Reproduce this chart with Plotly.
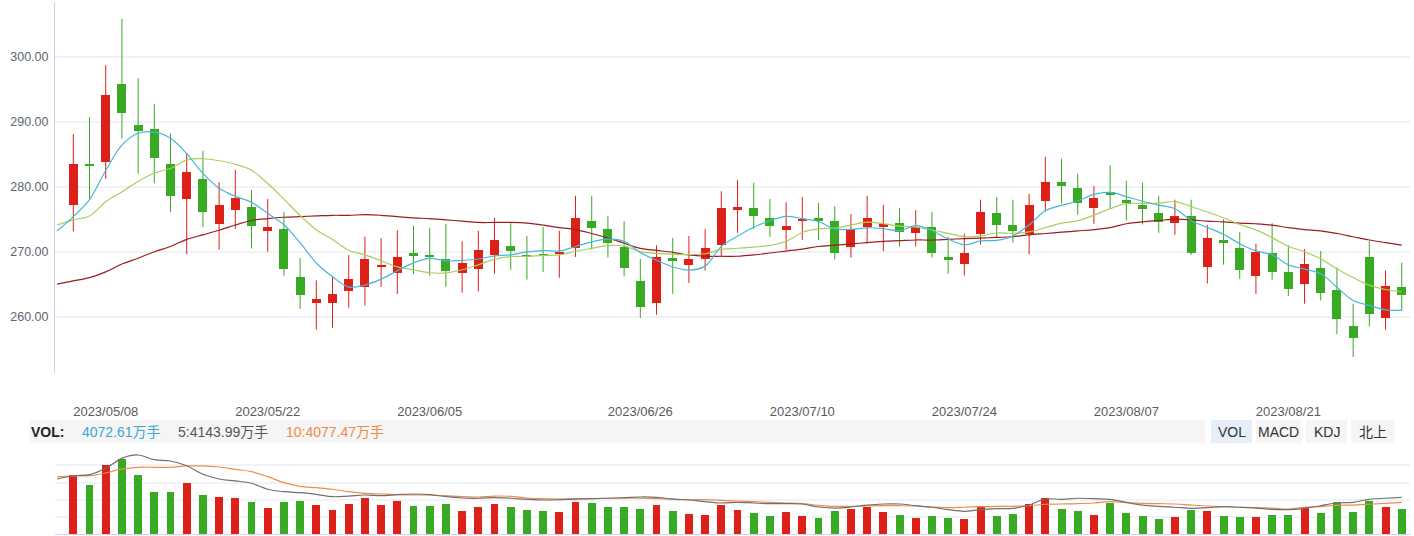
import plotly.graph_objects as go
import pandas as pd

# ---------------- data ----------------
prev_day = "2023/04/28"   # session before the first visible candle (only moving averages visible)
dates = [
    "2023/05/04", "2023/05/05", "2023/05/08", "2023/05/09", "2023/05/10", "2023/05/11", "2023/05/12",
    "2023/05/15", "2023/05/16", "2023/05/17", "2023/05/18", "2023/05/19", "2023/05/22", "2023/05/23",
    "2023/05/24", "2023/05/25", "2023/05/26", "2023/05/29", "2023/05/30", "2023/05/31",
    "2023/06/01", "2023/06/02", "2023/06/05", "2023/06/06", "2023/06/07", "2023/06/08", "2023/06/09",
    "2023/06/12", "2023/06/13", "2023/06/14", "2023/06/15", "2023/06/16", "2023/06/19", "2023/06/20",
    "2023/06/21", "2023/06/26", "2023/06/27", "2023/06/28", "2023/06/29", "2023/06/30",
    "2023/07/03", "2023/07/04", "2023/07/05", "2023/07/06", "2023/07/07", "2023/07/10", "2023/07/11",
    "2023/07/12", "2023/07/13", "2023/07/14", "2023/07/17", "2023/07/18", "2023/07/19", "2023/07/20",
    "2023/07/21", "2023/07/24", "2023/07/25", "2023/07/26", "2023/07/27", "2023/07/28", "2023/07/31",
    "2023/08/01", "2023/08/02", "2023/08/03", "2023/08/04", "2023/08/07", "2023/08/08", "2023/08/09",
    "2023/08/10", "2023/08/11", "2023/08/14", "2023/08/15", "2023/08/16", "2023/08/17", "2023/08/18",
    "2023/08/21", "2023/08/22", "2023/08/23", "2023/08/24", "2023/08/25", "2023/08/28", "2023/08/29",
    "2023/08/30",
]
open_ = [277.2, 283.6, 283.8, 295.8, 289.6, 288.9, 283.6, 278.2, 281.3, 274.3, 276.5, 276.9, 273.2, 273.6,
         266.1, 262.2, 262.2, 264.0, 264.6, 267.8, 266.8, 269.8, 269.6, 268.9, 266.8, 267.4, 269.6, 271.0,
         269.6, 269.6, 269.7, 270.6, 274.7, 273.5, 270.8, 265.6, 262.2, 269.1, 268.0, 268.9, 271.1, 276.5,
         276.7, 275.3, 273.4, 274.8, 275.2, 274.7, 270.8, 273.9, 273.9, 274.4, 272.9, 273.8, 269.3, 268.2,
         272.7, 276.0, 274.1, 272.7, 277.9, 280.7, 279.8, 276.8, 279.2, 278.0, 277.2, 276.0, 274.5, 275.5,
         267.7, 271.9, 270.6, 266.3, 269.8, 267.0, 265.1, 267.5, 264.1, 258.6, 269.2, 259.8, 264.6]
high = [288.1, 290.7, 298.7, 305.8, 296.7, 292.7, 288.2, 285.2, 285.5, 280.7, 282.6, 279.5, 278.1, 276.1,
        269.0, 265.6, 266.2, 269.5, 272.3, 272.1, 273.3, 274.0, 273.6, 274.3, 271.6, 273.2, 275.2, 274.5,
        272.4, 273.8, 273.2, 278.6, 278.6, 275.5, 274.7, 268.9, 271.0, 272.1, 272.4, 273.5, 279.3, 281.0,
        280.6, 278.1, 277.6, 278.4, 277.5, 277.0, 275.8, 278.6, 277.2, 276.7, 276.4, 276.1, 272.3, 272.8,
        278.0, 278.4, 278.0, 278.9, 284.6, 284.3, 282.0, 280.1, 283.3, 280.9, 280.6, 278.6, 278.0, 278.0,
        274.1, 275.0, 273.0, 271.2, 274.4, 271.0, 270.4, 270.1, 267.6, 262.0, 271.6, 267.1, 268.3]
low = [273.1, 278.0, 281.2, 287.4, 282.0, 280.5, 276.1, 269.6, 273.8, 270.3, 273.5, 270.5, 270.0, 266.3,
       261.2, 258.0, 258.3, 261.4, 261.7, 264.6, 263.5, 266.6, 266.3, 264.6, 263.7, 263.9, 266.6, 267.2,
       265.7, 266.9, 266.0, 269.2, 270.3, 269.1, 266.2, 259.8, 260.3, 263.5, 265.2, 267.1, 269.2, 272.9,
       273.5, 272.3, 270.3, 271.8, 271.8, 268.8, 269.1, 271.3, 270.1, 270.8, 270.8, 269.1, 266.6, 266.3,
       271.1, 272.2, 271.4, 269.6, 276.2, 277.4, 275.7, 274.3, 276.6, 274.8, 274.2, 272.9, 272.6, 269.5,
       265.1, 268.0, 265.8, 263.5, 265.7, 263.2, 262.0, 262.5, 257.3, 253.8, 258.5, 258.0, 260.9]
close = [283.6, 283.3, 294.2, 291.4, 288.6, 284.5, 278.6, 282.3, 276.2, 277.2, 278.3, 274.0, 273.8, 267.4,
         263.4, 262.7, 263.5, 265.8, 269.0, 267.9, 269.2, 269.5, 269.2, 267.1, 268.3, 270.3, 271.8, 270.1,
         269.3, 269.4, 270.0, 275.2, 273.7, 271.4, 267.6, 261.5, 269.2, 268.6, 269.0, 270.6, 276.7, 277.0,
         275.5, 274.0, 274.0, 274.9, 274.8, 269.8, 273.6, 275.3, 274.3, 273.1, 273.8, 269.8, 268.8, 269.8,
         276.1, 274.2, 273.2, 277.3, 280.7, 280.2, 277.6, 278.3, 278.8, 277.5, 276.6, 274.6, 275.5, 269.8,
         272.1, 271.4, 267.3, 270.0, 266.9, 264.3, 268.1, 263.7, 259.7, 256.7, 260.5, 264.7, 263.4]
volume = [6885, 5718, 8052, 8753, 6885, 4901, 4901, 5952, 4551, 4318, 4201, 3734, 3034, 3734, 3851,
          3384, 2801, 3501, 4201, 3384, 3851, 3268, 3268, 3501, 2684, 3151, 3501, 3151, 2801, 2684,
          2567, 3734, 3618, 3151, 3151, 2918, 3384, 2684, 2334, 2217, 3384, 2801, 2451, 2101, 2567,
          2101, 1867, 2684, 2918, 3151, 2567, 2217, 1867, 2101, 1867, 1751, 3268, 2101, 2334, 3501,
          4201, 2918, 2684, 2217, 3618, 2451, 2101, 1751, 1984, 2801, 2684, 2101, 1984, 1984, 2217,
          2217, 3151, 2451, 3734, 2567, 3851, 3151, 2918]

# moving-average values before enough visible sessions exist (from prev_day on)
ma5_warmup = [273.2, 275.4, 278.0, 282.5, 286.4]
ma10_warmup = [274.1, 274.9, 275.5, 277.7, 279.2, 280.8, 282.1, 282.8, 284.1, 284.3]
ma_long = [265.0, 265.5, 266.0, 266.9, 268.1, 269.0, 270.0, 270.8, 271.9, 272.6, 273.3, 274.1, 274.8,
           275.1, 275.3, 275.4, 275.5, 275.6, 275.6, 275.7, 275.6, 275.4, 275.2, 275.1, 274.9, 274.7,
           274.5, 274.5, 274.5, 274.4, 274.1, 273.7, 273.4, 272.8, 272.1, 271.3, 270.5, 270.2, 269.9,
           269.5, 269.3, 269.3, 269.3, 269.5, 269.8, 270.1, 270.4, 270.8, 271.0, 271.2, 271.4, 271.6,
           271.7, 271.8, 271.8, 271.9, 272.0, 272.1, 272.2, 272.3, 272.6, 272.8, 273.0, 273.2, 273.4,
           273.7, 274.3, 274.6, 274.8, 275.0, 274.9, 274.7, 274.6, 274.4, 274.3, 274.1, 273.7, 273.4,
           273.2, 272.8, 272.3, 271.8, 271.4, 271.0]
vol_ma5 = [6420, 6800, 6920, 7670, 8830, 9220, 8670, 8520, 7970, 6970, 6420, 6190, 5920, 5220, 4940,
           4820, 4630, 4350, 4430, 4550, 4470, 4590, 4670, 4590, 4350, 4200, 4170, 4240, 4170, 4050,
           3970, 4000, 4080, 4120, 4170, 4240, 4320, 4280, 4080, 3970, 3770, 3620, 3700, 3620, 3540,
           3540, 3500, 3150, 3030, 3150, 3380, 3500, 3500, 3300, 3120, 2840, 2650, 2840, 2950, 3000,
           3380, 4080, 4050, 4170, 4120, 4050, 3700, 3380, 3230, 3120, 3000, 3070, 3190, 3120, 3030,
           2880, 2840, 3000, 3300, 3620, 3700, 4050, 4170, 4280]
vol_ma10 = [6690, 6770, 6800, 7120, 7590, 7780, 7780, 7780, 7940, 7940, 7820, 7550, 7270, 6690, 5990,
            5560, 5400, 5220, 4940, 4750, 4670, 4590, 4550, 4550, 4470, 4350, 4320, 4430, 4400, 4200,
            4120, 4080, 4120, 4120, 4170, 4170, 4170, 4120, 4050, 4000, 4000, 3930, 3850, 3770, 3700,
            3620, 3540, 3350, 3230, 3230, 3270, 3300, 3300, 3270, 3150, 3070, 3120, 3190, 3230, 3230,
            3300, 3470, 3500, 3540, 3620, 3770, 3650, 3580, 3540, 3500, 3380, 3270, 3190, 3120, 3070,
            3030, 2920, 3120, 3190, 3350, 3380, 3470, 3580, 3700]

tick_dates = ["2023/05/08", "2023/05/22", "2023/06/05", "2023/06/26",
              "2023/07/10", "2023/07/24", "2023/08/07", "2023/08/21"]
price_ticks = [260, 270, 280, 290, 300]
vol_label = "4072.61万手"
vol_ma5_label = "5:4143.99万手"
vol_ma10_label = "10:4077.47万手"
buttons = ["VOL", "MACD", "KDJ", "北上"]

# ---------------- derived ----------------
all_dates = [prev_day] + dates
cs = pd.Series(close)
ma5 = ma5_warmup + cs.rolling(5).mean().iloc[4:].round(2).tolist()
ma10 = ma10_warmup + cs.rolling(10).mean().iloc[9:].round(2).tolist()

RED, GREEN = "#dd2118", "#38aa23"
up = [c >= o for o, c in zip(open_, close)]
colors = [RED if u else GREEN for u in up]
body_base = [min(o, c) for o, c in zip(open_, close)]
body_h = [max(abs(c - o), 0.18) for o, c in zip(open_, close)]

fig = go.Figure()

# wicks
for flag, col in ((True, RED), (False, GREEN)):
    wx, wy = [], []
    for d, h, l, u in zip(dates, high, low, up):
        if u == flag:
            wx += [d, d, None]
            wy += [l, h, None]
    fig.add_trace(go.Scatter(x=wx, y=wy, mode="lines", line=dict(color=col, width=1),
                             hoverinfo="skip", showlegend=False, xaxis="x", yaxis="y"))

# bodies
fig.add_trace(go.Bar(x=dates, y=body_h, base=body_base, marker=dict(color=colors, line=dict(width=0)),
                     width=0.555, showlegend=False, xaxis="x", yaxis="y"))

# moving averages
fig.add_trace(go.Scatter(x=all_dates, y=ma_long, mode="lines", line=dict(color="#9e1b20", width=1.2, shape="spline"),
                         showlegend=False, xaxis="x", yaxis="y"))
fig.add_trace(go.Scatter(x=all_dates, y=ma10, mode="lines", line=dict(color="#a9cf5e", width=1.2, shape="spline"),
                         showlegend=False, xaxis="x", yaxis="y"))
fig.add_trace(go.Scatter(x=all_dates, y=ma5, mode="lines", line=dict(color="#45b8da", width=1.2, shape="spline"),
                         showlegend=False, xaxis="x", yaxis="y"))

# volume
fig.add_trace(go.Bar(x=dates, y=volume, marker=dict(color=colors, line=dict(width=0)), width=0.49,
                     showlegend=False, xaxis="x2", yaxis="y2"))
fig.add_trace(go.Scatter(x=all_dates, y=vol_ma10, mode="lines", line=dict(color="#f08c4a", width=1.2, shape="spline"),
                         showlegend=False, xaxis="x2", yaxis="y2"))
fig.add_trace(go.Scatter(x=all_dates, y=vol_ma5, mode="lines", line=dict(color="#707070", width=1.2, shape="spline"),
                         showlegend=False, xaxis="x2", yaxis="y2"))

# ---------------- layout ----------------
W, H = 1414, 536
PL, PR = 55, 1410


def px(x):
    return (x - PL) / (PR - PL)


def py(y):
    return (H - y) / H


xr = [-0.13, 83.51]
FONT = "Liberation Sans, Arial, Noto Sans CJK SC, sans-serif"

fig.update_layout(
    width=W, height=H, margin=dict(l=PL, r=W - PR, t=0, b=0),
    paper_bgcolor="white", plot_bgcolor="white", bargap=0, showlegend=False,
    font=dict(family=FONT, size=12, color="#555"),
    xaxis=dict(domain=[0, 1], anchor="y", type="category", categoryorder="array", categoryarray=all_dates,
               range=xr, tickmode="array", tickvals=tick_dates, ticktext=tick_dates, ticks="",
               showgrid=False, zeroline=False, showline=False, ticklabelstandoff=29,
               tickfont=dict(size=13, color="#5a5a5a")),
    yaxis=dict(domain=[py(373), py(1.7)], range=[251.34, 308.46], tickmode="array", tickvals=price_ticks,
               tickformat=".2f", showgrid=True, gridcolor="#f1f2f5", gridwidth=2, zeroline=False,
               showline=True, linecolor="#c9d5e6", linewidth=1, ticks="", ticklabelstandoff=3,
               tickfont=dict(size=12.5, color="#5d6470")),
    xaxis2=dict(domain=[0, 1], anchor="y2", matches="x", type="category", categoryorder="array",
                categoryarray=all_dates, range=xr, showticklabels=False, ticks="", showgrid=False,
                zeroline=False, showline=True, linecolor="#ccd5e3", linewidth=1),
    yaxis2=dict(domain=[py(534), py(448.3)], range=[0, 10000], dtick=2000, showticklabels=False,
                showgrid=True, gridcolor="#f0f3f7", gridwidth=2, zeroline=False, showline=False, ticks=""),
)

shapes = [dict(type="rect", xref="paper", yref="paper", x0=px(29), x1=px(1205), y0=py(443.3), y1=py(420),
               fillcolor="#f5f5f5", line=dict(width=0), layer="below")]
btn_x = [(1211, 1252), (1256, 1301), (1306, 1347), (1351, 1395)]
btn_fill = ["#e6eef8", "#f5f5f5", "#f5f5f5", "#f5f5f5"]
annotations = []
for name, (a, b), fc in zip(buttons, btn_x, btn_fill):
    shapes.append(dict(type="rect", xref="paper", yref="paper", x0=px(a), x1=px(b), y0=py(443.3), y1=py(420),
                       fillcolor=fc, line=dict(width=0), layer="below"))
    annotations.append(dict(text=name, xref="paper", yref="paper", x=px((a + b) / 2), y=py(432),
                            xanchor="center", yanchor="middle", showarrow=False,
                            font=dict(size=14, color="#333", family=FONT)))

annotations += [
    dict(text="<b>VOL:</b>", xref="paper", yref="paper", x=px(29), y=py(432), xanchor="left", yanchor="middle",
         showarrow=False, font=dict(size=14, color="#222", family=FONT)),
    dict(text=vol_label, xref="paper", yref="paper", x=px(80), y=py(432), xanchor="left", yanchor="middle",
         showarrow=False, font=dict(size=14, color="#3aa7d4", family=FONT)),
    dict(text=vol_ma5_label, xref="paper", yref="paper", x=px(176), y=py(432), xanchor="left", yanchor="middle",
         showarrow=False, font=dict(size=14, color="#555", family=FONT)),
    dict(text=vol_ma10_label, xref="paper", yref="paper", x=px(284), y=py(432), xanchor="left", yanchor="middle",
         showarrow=False, font=dict(size=14, color="#f08a45", family=FONT)),
]
fig.update_layout(shapes=shapes, annotations=annotations)

fig.write_html("out.html")
